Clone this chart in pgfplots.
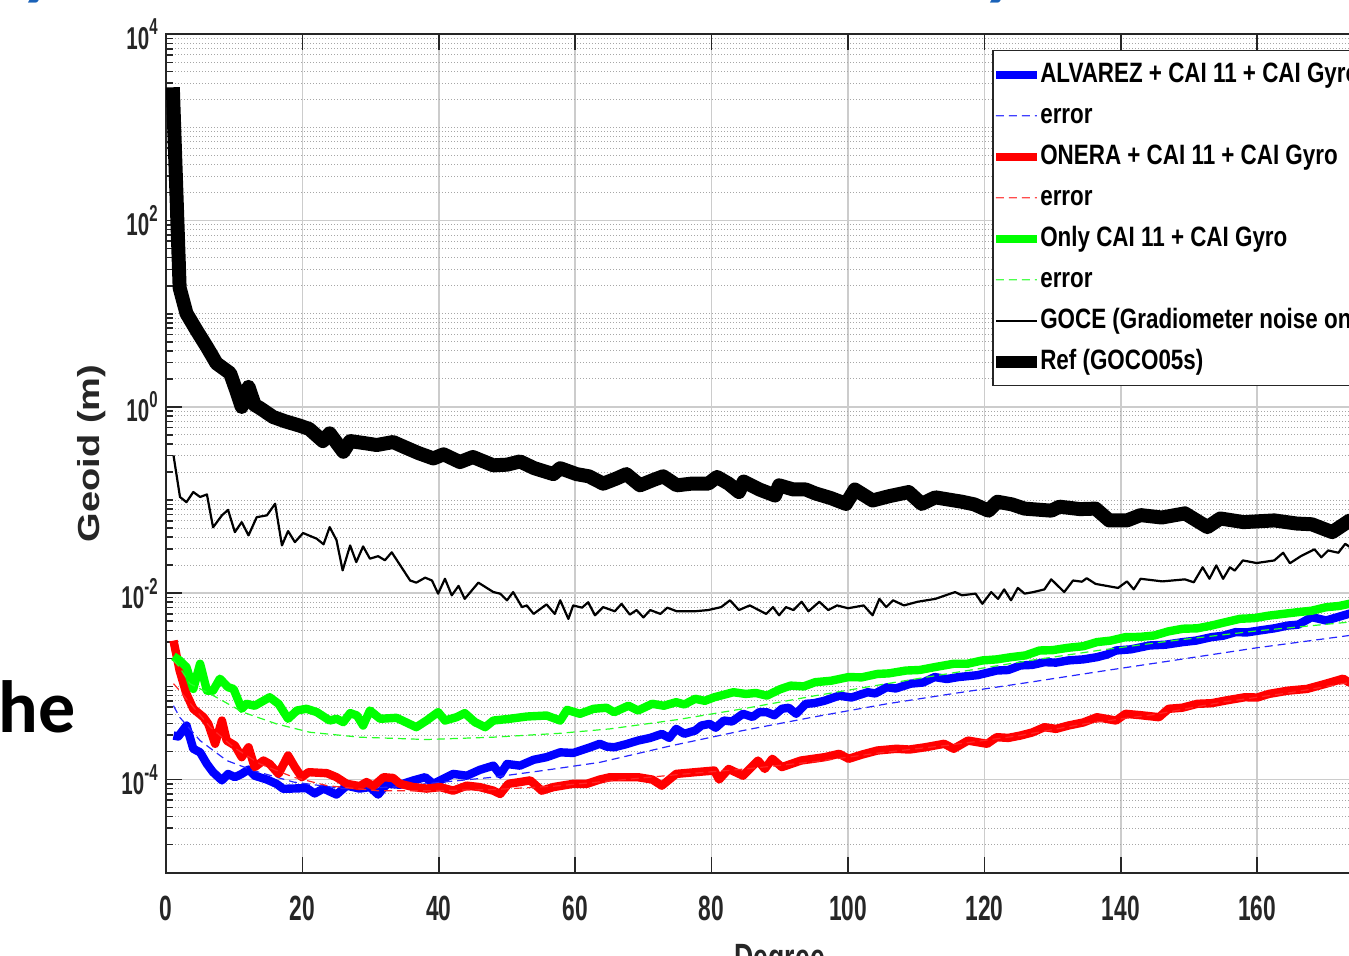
\documentclass[border=0pt]{standalone}
\usepackage{fontspec}
\setmainfont{Liberation Sans}
\newfontfamily\legfont{Liberation Sans}[FakeStretch=0.8]
\newfontfamily\tickfont{Liberation Sans}[FakeStretch=0.65]
\newfontfamily\slidefont{Carlito}
\usepackage{pgfplots}
\pgfplotsset{compat=1.18}

\definecolor{axgray}{RGB}{38,38,38}
\definecolor{titleblue}{RGB}{26,98,184}

% power-of-ten tick labels in the narrow text font
\newcommand\dec[1]{10\raisebox{0.45em}{\fontsize{11.5}{12}\selectfont #1}}
% legend samples: a filled bar (colour, half thickness) or a dashed bar
\newcommand\legbox{\path[draw=none, fill=none] (-4pt,-3pt) rectangle (18.25pt,3pt);}
\newcommand\legbar[2]{\legbox
  \fill[fill=#1, draw=none] (-3pt,-#2) rectangle (17.5pt,#2);}
\newcommand\legdash[1]{\legbox
  \fill[fill=#1, draw=none] (-3pt,-0.3pt) rectangle (1pt,0.3pt)
    (3.5pt,-0.3pt) rectangle (7.5pt,0.3pt)
    (10pt,-0.3pt) rectangle (14pt,0.3pt)
    (16.5pt,-0.3pt) rectangle (17.5pt,0.3pt);}

\begin{document}
\begin{tikzpicture}[x=1pt,y=1pt]
\useasboundingbox (0,0) rectangle (674.5,477.5);
\clip (0,0) rectangle (674.5,477.5);

% surrounding slide text
\node[anchor=base west, inner sep=0pt, font=\slidefont\bfseries\fontsize{37}{40}\selectfont] at (-1,111.5) {he};
\node[anchor=base west, inner sep=0pt, text=titleblue, font=\slidefont\bfseries\itshape\fontsize{40}{44}\selectfont] at (12,482) {y};
\node[anchor=base west, inner sep=0pt, text=titleblue, font=\slidefont\bfseries\itshape\fontsize{40}{44}\selectfont] at (493,482) {y};

\begin{axis}[
  at={(83pt,41.15pt)}, anchor=south west,
  width=613.8pt, height=419.2pt, scale only axis,
  xmin=0, xmax=180,
  ymode=log, ymin=1e-5, ymax=1e4,
  axis line style={axgray, line width=1pt},
  xtick={0,20,...,180},
  xticklabels={0,20,40,60,80,100,120,140,160,180},
  ytick={1e-4,1e-2,1,1e2,1e4},
  yticklabels={\dec{-4},\dec{-2},\dec{0},\dec{2},\dec{4}},
  minor ytick={2e-5,3e-5,4e-5,5e-5,6e-5,7e-5,8e-5,9e-5,
    2e-4,3e-4,4e-4,5e-4,6e-4,7e-4,8e-4,9e-4,1e-3,
    2e-3,3e-3,4e-3,5e-3,6e-3,7e-3,8e-3,9e-3,
    2e-2,3e-2,4e-2,5e-2,6e-2,7e-2,8e-2,9e-2,1e-1,
    2e-1,3e-1,4e-1,5e-1,6e-1,7e-1,8e-1,9e-1,
    2,3,4,5,6,7,8,9,10,20,30,40,50,60,70,80,90,
    2e2,3e2,4e2,5e2,6e2,7e2,8e2,9e2,1e3,
    2e3,3e3,4e3,5e3,6e3,7e3,8e3,9e3},
  tick align=inside,
  xtick pos=both, ytick pos=left,
  major tick length=8pt, minor tick length=3.5pt,
  tick style={axgray, line width=0.8pt},
  grid=both,
  major grid style={draw=black!20, line width=0.75pt},
  minor grid style={draw=black!35, line width=0.5pt, dash pattern=on 0.5pt off 1pt},
  xticklabel style={anchor=center, inner sep=0pt, yshift=-17.7pt, text=axgray,
    font=\tickfont\bfseries\fontsize{17.5}{18}\selectfont},
  yticklabel style={anchor=east, inner sep=0pt, xshift=-4pt, text=axgray,
    font=\tickfont\bfseries\fontsize{15.8}{16}\selectfont},
  legend cell align=left,
  legend style={at={(0.6729,0.9813)}, anchor=north west,
    draw=axgray, line width=0.75pt, fill=white,
    font=\legfont\bfseries\fontsize{14}{16}\selectfont,
    row sep=4.5pt, inner xsep=0.5pt, inner ysep=4pt,
    nodes={inner sep=1pt, text height=11pt, text depth=3pt}},
]

% ALVAREZ + CAI 11 + CAI Gyro
\addplot[draw=blue, line width=4.2pt, line join=round,
  legend image code/.code={\legbar{blue}{2pt}}] coordinates {
(1.1,2.97e-4)(1.8,2.9e-4)(3,3.8e-4)(4,2.14e-4)(5,1.96e-4)(6,1.47e-4)(6.9,1.2e-4)
(8.2,0.98e-4)(9.1,1.15e-4)(10.1,1.06e-4)(11.1,1.15e-4)(12.1,1.28e-4)(13,1.1e-4)
(14.8,1.0e-4)(16.2,0.9e-4)(17.2,0.795e-4)(20.6,0.81e-4)(21.8,0.71e-4)(23.1,0.8e-4)
(25,0.69e-4)(26.5,0.86e-4)(28.4,0.8e-4)(29.9,0.83e-4)(31.1,0.69e-4)(32.4,0.9e-4)
(34.3,0.88e-4)(36.3,0.98e-4)(38,1.06e-4)(39.2,0.9e-4)(40.2,0.98e-4)(42.1,1.15e-4)
(44.1,1.1e-4)(46,1.27e-4)(48,1.41e-4)(49,1.13e-4)(50,1.47e-4)(51.9,1.41e-4)
(53.9,1.63e-4)(55.8,1.74e-4)(57.8,1.96e-4)(59.7,1.93e-4)(62.2,2.22e-4)(63.6,2.42e-4)
(64.6,2.26e-4)(65.7,2.22e-4)(67.5,2.4e-4)(69.2,2.62e-4)(71,2.8e-4)(72.7,3.09e-4)
(73.8,2.8e-4)(74.8,3.5e-4)(76,3.1e-4)(77.6,3.36e-4)(78.5,3.8e-4)(79.7,3.96e-4)
(80.6,3.6e-4)(81.8,4.3e-4)(83,4.2e-4)(84.6,5.08e-4)(86,4.7e-4)(87,5.3e-4)
(88.1,5.28e-4)(89.2,4.9e-4)(90.3,5.75e-4)(91.3,5.9e-4)(92.4,5.08e-4)(93.8,6.5e-4)
(95,6.6e-4)(96.5,7.0e-4)(98.7,7.95e-4)(100.5,7.6e-4)(102.9,8.66e-4)(104,8.4e-4)
(105.7,9.8e-4)(107,9.5e-4)(109.2,1.07e-3)(111,1.1e-3)(112.7,1.26e-3)(114.5,1.2e-3)
(116.2,1.26e-3)(119,1.32e-3)(121.8,1.48e-3)(123.5,1.5e-3)(125.3,1.68e-3)(127,1.7e-3)
(128.8,1.82e-3)(130.5,1.8e-3)(132.3,1.9e-3)(134.5,1.95e-3)(136.5,2.06e-3)(138,2.2e-3)
(139.3,2.43e-3)(141.5,2.5e-3)(144.2,2.75e-3)(146.5,2.8e-3)(149.1,2.99e-3)(151,3.1e-3)
(153.3,3.38e-3)(155,3.5e-3)(156.8,3.82e-3)(158.5,3.8e-3)(160.3,3.98e-3)(162.5,4.2e-3)
(164.5,4.5e-3)(166,4.6e-3)(168,5.54e-3)(170.1,5.1e-3)(172,5.6e-3)(173.5,6.03e-3)
(176,6.5e-3)(180,7e-3)
};
\addlegendentry{ALVAREZ + CAI 11 + CAI Gyro}

\addplot[draw=blue!85!white, line width=0.6pt, dash pattern=on 4pt off 2.5pt,
  legend image code/.code={\legdash{blue!75!white}}] coordinates {
(1.1,6.2e-4)(2,4.67e-4)(5,2.62e-4)(8.9,1.6e-4)(12.8,1.25e-4)(18.7,0.94e-4)(26,0.8e-4)
(33.3,0.83e-4)(40.7,0.94e-4)(48,1.06e-4)(55.3,1.25e-4)(63.6,1.53e-4)(74,2.3e-4)
(84.6,3.36e-4)(95,4.7e-4)(105.7,6.5e-4)(116,8.5e-4)(126.7,1.11e-3)(137,1.45e-3)
(147.7,1.9e-3)(160,2.6e-3)(173.5,3.52e-3)(180,4e-3)
};
\addlegendentry{error}

% ONERA + CAI 11 + CAI Gyro
\addplot[draw=red, line width=4.2pt, line join=round,
  legend image code/.code={\legbar{red}{2pt}}] coordinates {
(1.1,3.1e-3)(2,1.48e-3)(3,8.3e-4)(4,5.75e-4)(5.5,4.67e-4)(6.2,3.96e-4)(7.2,2.42e-4)
(8.2,4.3e-4)(8.9,2.62e-4)(10.1,2.32e-4)(11.1,1.74e-4)(12.1,2.22e-4)(13,1.36e-4)
(14.3,1.6e-4)(15.2,1.47e-4)(16.5,1.15e-4)(17.9,1.81e-4)(18.9,1.36e-4)(19.9,1.06e-4)
(20.9,1.2e-4)(23.6,1.17e-4)(25,1.06e-4)(26.5,0.9e-4)(28.4,0.85e-4)(29.4,0.94e-4)
(30.4,0.85e-4)(31.9,1.06e-4)(33.3,1.04e-4)(34.3,0.9e-4)(36.3,0.83e-4)(38.2,0.8e-4)
(40.2,0.83e-4)(42.1,0.76e-4)(44.1,0.86e-4)(46,0.83e-4)(48,0.76e-4)(49,0.7e-4)
(50.2,0.9e-4)(51.9,0.94e-4)(53.4,0.98e-4)(55.1,0.76e-4)(56.8,0.83e-4)(59.7,0.9e-4)
(61.7,0.9e-4)(63.6,1.0e-4)(65.1,1.06e-4)(66.4,1.06e-4)(69.2,1.06e-4)(71.3,1.0e-4)
(72.7,0.86e-4)(74.8,1.15e-4)(77.6,1.2e-4)(80.4,1.25e-4)(81.1,1.0e-4)(82.5,1.3e-4)
(84.6,1.1e-4)(86.8,1.6e-4)(87.8,1.3e-4)(88.9,1.67e-4)(90.3,1.36e-4)(93.1,1.6e-4)
(96.6,1.74e-4)(98.7,1.89e-4)(100.1,1.67e-4)(102,1.85e-4)(104.3,2.05e-4)(107.1,2.14e-4)
(109,2.1e-4)(111.3,2.22e-4)(114.1,2.42e-4)(115.5,2.14e-4)(117.6,2.62e-4)(120.4,2.42e-4)
(121.8,2.85e-4)(123.5,2.8e-4)(125.3,2.97e-4)(127,3.2e-4)(128.8,3.65e-4)(130.5,3.5e-4)
(132.3,3.8e-4)(134.5,4.1e-4)(136.5,4.67e-4)(139.3,4.3e-4)(140.7,5.08e-4)(143,4.9e-4)
(145.6,4.67e-4)(147,5.75e-4)(149,5.9e-4)(151.2,6.5e-4)(153.3,6.6e-4)(155.4,7.06e-4)
(158.2,7.65e-4)(160,7.6e-4)(161.7,8.3e-4)(164.5,9.0e-4)(167.3,9.4e-4)(170.1,1.07e-3)
(172.6,1.21e-3)(173.5,1.1e-3)(176,1.25e-3)(180,1.4e-3)
};
\addlegendentry{ONERA + CAI 11 + CAI Gyro}

\addplot[draw=red!85!white, line width=0.6pt, dash pattern=on 4pt off 2.5pt,
  legend image code/.code={\legdash{red!70!white}}] coordinates {
(1.1,1.07e-3)(2,9e-4)(4,6.0e-4)(6.5,3.65e-4)(9.9,2.22e-4)(13.8,1.47e-4)(18.7,1.06e-4)
(23.6,0.86e-4)(30.9,0.76e-4)(38.2,0.76e-4)(48,0.78e-4)(57,0.85e-4)(66,0.98e-4)
(75,1.13e-4)(85,1.3e-4)(95,1.55e-4)(105,1.95e-4)(115,2.35e-4)(125,2.95e-4)(135,4.0e-4)
(145,5.0e-4)(155,6.8e-4)(165,8.6e-4)(173.5,1.1e-3)(180,1.3e-3)
};
\addlegendentry{error}

% Only CAI 11 + CAI Gyro
\addplot[draw=green, line width=4.2pt, line join=round,
  legend image code/.code={\legbar{green}{2pt}}] coordinates {
(1.1,2.1e-3)(2,1.9e-3)(3,1.61e-3)(4,9.4e-4)(5,1.75e-3)(6,9.0e-4)(6.9,9.0e-4)
(7.9,1.21e-3)(9.1,9.8e-4)(9.9,9.4e-4)(11.1,5.75e-4)(11.8,6.5e-4)(13,6.2e-4)
(15.2,7.65e-4)(16.5,6.5e-4)(17.9,4.49e-4)(19.2,5.51e-4)(20.6,5.75e-4)(22.1,5.3e-4)
(24,4.3e-4)(25,4.49e-4)(26,4.13e-4)(27,5.17e-4)(28,4.87e-4)(28.9,3.8e-4)(29.9,5.51e-4)
(31.4,4.49e-4)(33.8,4.6e-4)(36.7,3.65e-4)(38.2,4.3e-4)(39.9,5.3e-4)(40.9,4.3e-4)
(42.6,4.67e-4)(43.8,5.17e-4)(45.3,4.13e-4)(46.8,3.65e-4)(48,4.3e-4)(50.4,4.49e-4)
(52.9,4.75e-4)(55.8,4.87e-4)(57.8,4.3e-4)(58.8,5.6e-4)(60.7,5.08e-4)(62.7,5.75e-4)
(64.6,5.9e-4)(65.7,5.28e-4)(67.8,6.2e-4)(69.2,5.51e-4)(71.3,6.5e-4)(73,6.2e-4)
(74.8,6.77e-4)(76,6.4e-4)(77.6,7.36e-4)(79,7.0e-4)(80.4,7.65e-4)(83.2,8.66e-4)
(85,8.3e-4)(86.5,8.5e-4)(88.1,7.95e-4)(90,9.3e-4)(91.6,1.02e-3)(93.5,1.0e-3)
(95.2,1.11e-3)(97.5,1.15e-3)(100.1,1.26e-3)(102,1.25e-3)(104.3,1.36e-3)(106,1.38e-3)
(108.5,1.48e-3)(110.5,1.5e-3)(112.7,1.61e-3)(115.5,1.75e-3)(117.5,1.75e-3)(119.7,1.9e-3)
(121.8,1.95e-3)(123.9,2.06e-3)(126,2.15e-3)(128.1,2.43e-3)(130,2.45e-3)(132.3,2.6e-3)
(134.5,2.7e-3)(136.5,2.99e-3)(138.5,3.1e-3)(140.7,3.38e-3)(142.8,3.4e-3)(144.9,3.52e-3)
(147,3.9e-3)(149.1,4.16e-3)(151.2,4.2e-3)(153.3,4.5e-3)(155.4,4.9e-3)(157.5,5.32e-3)
(159.5,5.4e-3)(161.7,5.75e-3)(163.8,6.0e-3)(165.9,6.26e-3)(168,6.5e-3)(170.1,7.08e-3)
(172,7.3e-3)(173.5,7.7e-3)(176,8.2e-3)(180,9e-3)
};
\addlegendentry{Only CAI 11 + CAI Gyro}

\addplot[draw=green!85!white, line width=0.6pt, dash pattern=on 4pt off 2.5pt,
  legend image code/.code={\legdash{green!70!white}}] coordinates {
(1.1,1.9e-3)(2,1.6e-3)(3.5,1.07e-3)(6.5,8.3e-4)(11.3,5.28e-4)(16.2,3.96e-4)(21.1,3.22e-4)
(28.4,2.85e-4)(38.2,2.69e-4)(48,2.85e-4)(57.8,3.14e-4)(65.1,3.5e-4)(75,4.4e-4)
(84.6,5.75e-4)(95,7.9e-4)(105.7,1.07e-3)(116,1.42e-3)(126.7,1.9e-3)(137,2.45e-3)
(147.7,3.1e-3)(160,3.95e-3)(173.5,4.9e-3)(180,5.4e-3)
};
\addlegendentry{error}

% GOCE (gradiometer noise only)
\addplot[draw=black, line width=1.1pt, line join=round,
  legend image code/.code={\legbar{black}{0.55pt}}] coordinates {
(1.1,0.302)(2.05,0.108)(3,0.095)(4,0.122)(5,0.108)(6,0.115)(6.9,0.051)(8.2,0.0686)
(9.1,0.0785)(10.1,0.0453)(11.1,0.058)(12.1,0.0418)(13.3,0.0655)(14.8,0.0686)(16,0.0914)
(17,0.0326)(17.9,0.0465)(18.9,0.0354)(20.1,0.0443)(22.1,0.0385)(23.1,0.0335)(24,0.0513)
(25,0.0372)(25.9,0.0176)(27,0.0326)(27.9,0.0216)(28.9,0.0318)(29.9,0.0235)(31.1,0.025)
(32.1,0.0226)(33.1,0.0275)(35.8,0.0137)(36.7,0.013)(38,0.0147)(39,0.0137)(39.9,0.0099)
(40.9,0.0143)(41.9,0.0095)(42.9,0.012)(43.8,0.0087)(45.8,0.013)(48,0.0103)(49,0.0099)
(50,0.0084)(50.9,0.0103)(52.2,0.0071)(52.9,0.0074)(53.9,0.006)(55.8,0.0076)(57,0.006)
(57.8,0.0084)(59,0.0053)(59.7,0.0074)(61,0.007)(61.9,0.008)(62.9,0.0058)(64.1,0.0071)
(65.8,0.0064)(66.8,0.0077)(68,0.0059)(69,0.0066)(70,0.0055)(71,0.0066)(72.5,0.006)
(73.5,0.007)(74.9,0.0064)(77.5,0.0064)(79.5,0.0066)(81.4,0.0071)(82.7,0.0084)(84,0.0066)
(85.6,0.0074)(88,0.006)(89,0.0071)(89.9,0.0058)(90.9,0.0071)(92,0.0066)(93.2,0.0081)
(94.2,0.0064)(95.8,0.0081)(97.1,0.0066)(98.4,0.0074)(100,0.0069)(102.3,0.0074)
(103.6,0.0058)(104.6,0.0087)(105.6,0.0071)(106.6,0.0084)(108.2,0.0074)(110.2,0.0081)
(112.8,0.0087)(115.7,0.0103)(116.7,0.0095)(118.7,0.0099)(119.7,0.0077)(121,0.0103)
(122,0.0087)(122.9,0.011)(123.9,0.0084)(124.9,0.0114)(125.9,0.0099)(127.2,0.0103)
(128.8,0.011)(129.8,0.0141)(131.7,0.0103)(133,0.0137)(134.3,0.0133)(135,0.0145)
(136.3,0.0126)(139.6,0.0114)(140.9,0.0134)(141.9,0.011)(142.9,0.0143)(146.1,0.0134)
(149.4,0.0141)(150.7,0.0131)(152,0.019)(153,0.0143)(154,0.0199)(155,0.0143)(156,0.019)
(156.7,0.0175)(157.9,0.0225)(159.9,0.0211)(162.5,0.0225)(163.8,0.0272)(164.8,0.021)
(166.4,0.025)(168.4,0.0296)(169.4,0.0243)(170.4,0.0288)(171.9,0.0272)(172.9,0.0339)
(174,0.03)(176,0.032)(180,0.035)
};
\addlegendentry{GOCE (Gradiometer noise only)}

% reference field GOCO05s
\addplot[draw=black, line width=7pt, line join=round,
  legend image code/.code={\legbar{black}{3pt}}] coordinates {
(1,2700)(2,19)(3,10.1)(4.5,6.6)(6,4.4)(7.4,2.94)(9.4,2.3)(10.3,1.5)(11.1,1.0)(12.1,1.64)
(13,1.05)(13.8,0.97)(15.7,0.78)(17.5,0.7)(19.6,0.63)(21,0.58)(23,0.43)(24,0.52)(26,0.33)
(27,0.43)(29,0.41)(30.9,0.39)(33.3,0.42)(35,0.37)(37,0.32)(39.2,0.28)(40.7,0.31)
(43.1,0.256)(45,0.29)(48,0.236)(50,0.24)(51.9,0.26)(54,0.22)(56.8,0.19)(57.8,0.22)
(60.2,0.19)(62,0.18)(64.1,0.15)(66,0.17)(67.5,0.19)(69.5,0.144)(71.5,0.165)(72.9,0.18)
(74.9,0.144)(77,0.15)(79.5,0.15)(80.8,0.177)(82.5,0.15)(84,0.122)(84.7,0.158)(87,0.13)
(89.3,0.112)(89.9,0.144)(92,0.13)(93.8,0.13)(95.2,0.118)(97.5,0.105)(99.7,0.091)(101,0.13)
(103.6,0.099)(106,0.11)(108.9,0.122)(110.8,0.091)(112.8,0.107)(116.7,0.096)(118.5,0.09)
(120.6,0.077)(121.9,0.096)(124,0.09)(125.9,0.081)(129.8,0.077)(131,0.085)(134,0.08)
(136.3,0.081)(138.3,0.0605)(140.9,0.0605)(142.9,0.069)(146,0.065)(149.4,0.072)
(152.7,0.0513)(154.6,0.0635)(158,0.058)(162.5,0.0605)(165.8,0.056)(168,0.055)(171,0.0453)
(173.5,0.06)(176,0.055)(180,0.05)
};
\addlegendentry{Ref (GOCO05s)}
\end{axis}

% axis titles
\node[rotate=90, inner sep=0pt, text=axgray, font=\bfseries\fontsize{19}{20}\selectfont]
  at (46,250.75) {\scalebox{1}[0.8]{Geoid (m)}};
\node[anchor=base, inner sep=0pt, text=axgray, font=\bfseries\fontsize{19}{20}\selectfont]
  at (389.9,-7.6) {\scalebox{0.7}[1]{Degree}};
\end{tikzpicture}
\end{document}
